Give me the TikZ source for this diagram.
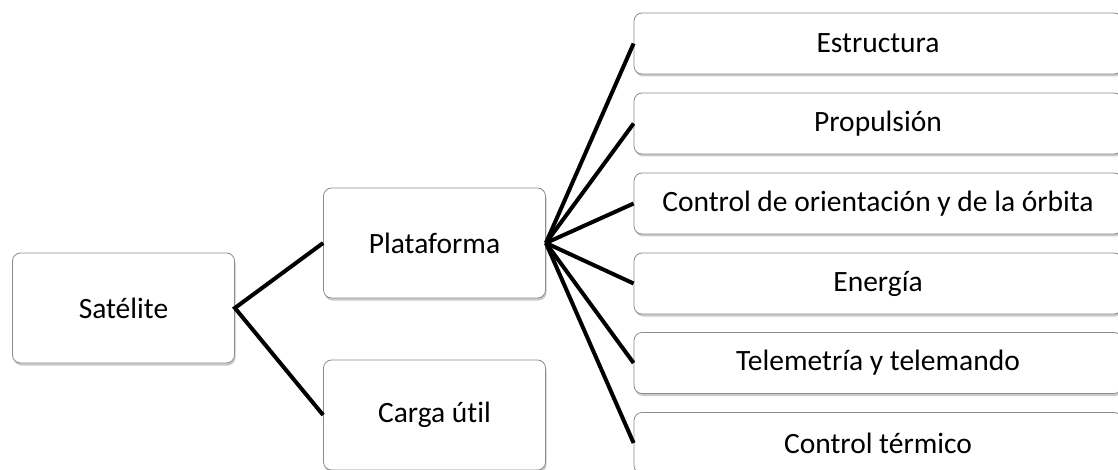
\documentclass[tikz,border=0pt]{standalone}
\usepackage{fontspec}
\setmainfont{Carlito}[Ligatures=NoCommon]
\usetikzlibrary{shadows}

\tikzset{
  box/.style={draw=black!45, line width=0.8pt, fill=white, rounded corners=8pt,
    inner sep=0pt, align=center, font=\fontsize{29.5}{34}\selectfont,
    drop shadow={shadow xshift=1pt, shadow yshift=-2.5pt, opacity=0.35, fill=black!60}},
  leftbox/.style={box, minimum width=222pt, minimum height=110pt},
  subbox/.style={box, minimum width=488pt, minimum height=61pt},
  link/.style={draw=black, line width=4pt}
}

\begin{document}
\begin{tikzpicture}[x=1pt, y=-1pt]
  \useasboundingbox (0,0) rectangle (1118,470);
  \clip (0,0) rectangle (1118,470);

  % first two levels of the tree
  \node[leftbox] (sat) at (123.5,308) {Satélite};
  \node[leftbox] (plat) at (434.5,243) {Plataforma};
  \node[leftbox] (carga) at (434.5,415) {Carga útil};

  % subsystems of the platform
  \node[subbox] (s1) at (878,43.5)  {Estructura};
  \node[subbox] (s2) at (878,123.5) {Propulsión};
  \node[subbox] (s3) at (878,203.5) {Control de orientación y de la órbita};
  \node[subbox] (s4) at (878,283.5) {Energía};
  \node[subbox] (s5) at (878,363)   {Telemetría y telemando};
  \node[subbox] (s6) at (878,443)   {Control térmico};

  % connectors
  \draw[link] (plat.west) -- (sat.east) -- (carga.west);
  \foreach \s in {s1,s2,s3,s4,s5,s6}
    \draw[link] (plat.east) -- (\s.west);
\end{tikzpicture}
\end{document}
